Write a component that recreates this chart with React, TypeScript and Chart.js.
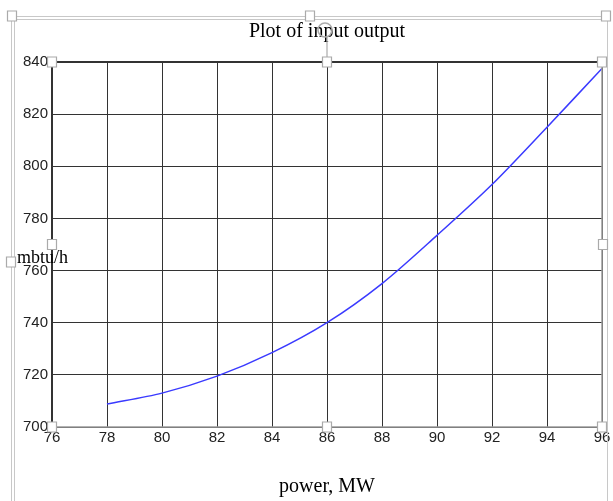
import React, { useEffect, useRef } from "react";
import { Chart, registerables } from "chart.js";

Chart.register(...registerables);

const chartTitle = "Plot of input output";
const xAxisTitle = "power, MW";
const yAxisTitle = "mbtu/h";
const powerMW = [78, 80, 82, 84, 86, 88, 90, 92, 94, 96];
const mbtuPerHour = [708.8, 713, 719.5, 728.5, 740, 755, 773.5, 793, 815, 837.5];
const xMin = 76;
const xMax = 96;
const xStep = 2;
const yMin = 700;
const yMax = 840;
const yStep = 20;

const decorations = {
  id: "decorations",
  afterDraw(chart: any) {
    const ctx = chart.ctx as CanvasRenderingContext2D;
    const a = chart.chartArea;
    ctx.save();
    // outer selection frame
    ctx.strokeStyle = "#c8c8c8";
    ctx.lineWidth = 1;
    ctx.beginPath();
    ctx.moveTo(11.5, 520);
    ctx.lineTo(11.5, 16.5);
    ctx.lineTo(607.5, 16.5);
    ctx.lineTo(607.5, 520);
    ctx.stroke();
    ctx.beginPath();
    ctx.moveTo(14.5, 520);
    ctx.lineTo(14.5, 19.5);
    ctx.lineTo(604.5, 19.5);
    ctx.stroke();
    // plot borders
    ctx.strokeStyle = "#333";
    ctx.lineWidth = 2;
    ctx.beginPath();
    ctx.moveTo(a.left, a.bottom);
    ctx.lineTo(a.left, a.top);
    ctx.lineTo(a.right, a.top);
    ctx.stroke();
    ctx.strokeStyle = "#9a9a9a";
    ctx.lineWidth = 1.5;
    ctx.beginPath();
    ctx.moveTo(a.left, a.bottom);
    ctx.lineTo(a.right, a.bottom);
    ctx.lineTo(a.right, a.top);
    ctx.stroke();
    // rotate handle stem
    const cx = (a.left + a.right) / 2;
    ctx.strokeStyle = "#999";
    ctx.lineWidth = 1;
    ctx.beginPath();
    ctx.moveTo(cx, a.top);
    ctx.lineTo(cx, 37);
    ctx.stroke();
    ctx.beginPath();
    ctx.arc(cx - 2, 30, 7, 0, Math.PI * 2);
    ctx.strokeStyle = "#aaa";
    ctx.lineWidth = 1.5;
    ctx.stroke();
    const handle = (x: number, y: number) => {
      ctx.fillStyle = "#fff";
      ctx.strokeStyle = "#aaa";
      ctx.lineWidth = 1.2;
      ctx.beginPath();
      ctx.rect(x - 4.5, y - 5, 9, 10);
      ctx.fill();
      ctx.stroke();
    };
    const my = (a.top + a.bottom) / 2;
    [
      [a.left, a.top], [cx, a.top], [a.right, a.top],
      [a.left, my], [a.right + 1, my],
      [a.left, a.bottom], [cx, a.bottom], [a.right, a.bottom],
      [12, 16], [310, 16], [606, 16], [11, 262],
    ].forEach(([x, y]) => handle(x, y));
    // horizontal y-axis title
    ctx.fillStyle = "#000";
    ctx.font = "18px 'Liberation Serif'";
    ctx.textBaseline = "middle";
    ctx.textAlign = "left";
    ctx.fillText(yAxisTitle, 17, 258);
    ctx.restore();
  },
};

export default function App() {
  const ref = useRef<HTMLCanvasElement>(null);
  useEffect(() => {
    if (!ref.current) return;
    const tickFont = { family: "'Liberation Sans Narrow', 'Liberation Sans', Arial", size: 15 };
    const chart = new Chart(ref.current, {
      type: "line",
      data: {
        datasets: [
          {
            data: powerMW.map((x, i) => ({ x, y: mbtuPerHour[i] })),
            borderColor: "#3a3aff",
            borderWidth: 1.5,
            pointRadius: 0,
            tension: 0.3,
            fill: false,
          },
        ],
      },
      options: {
        responsive: false,
        animation: false,
        layout: { padding: { left: 0, right: 11, top: 0, bottom: 0 } },
        plugins: {
          legend: { display: false },
          tooltip: { enabled: false },
          title: {
            display: true,
            text: chartTitle,
            fullSize: false,
            color: "#000",
            font: { family: "'Liberation Serif'", size: 20, weight: "normal" },
            padding: { top: 20, bottom: 18 },
          },
        },
        scales: {
          x: {
            type: "linear",
            min: xMin,
            max: xMax,
            grid: { color: "#333", lineWidth: 1, drawTicks: false },
            border: { display: false },
            ticks: { stepSize: xStep, color: "#222", font: tickFont, padding: 2, maxRotation: 0 },
            title: {
              display: true,
              text: xAxisTitle,
              color: "#000",
              font: { family: "'Liberation Serif'", size: 20, weight: "normal" },
              padding: { top: 26, bottom: 2 },
            },
          },
          y: {
            min: yMin,
            max: yMax,
            grid: { color: "#333", lineWidth: 1, drawTicks: false },
            border: { display: false },
            ticks: { stepSize: yStep, color: "#222", font: tickFont, padding: 4 },
            afterFit: (scale: any) => {
              scale.width = 52;
            },
          },
        },
      },
      plugins: [decorations],
    });
    return () => chart.destroy();
  }, []);
  return (
    <div style={{ position: "fixed", left: 0, top: 0, width: 613, height: 501, background: "#fff" }}>
      <canvas ref={ref} width={613} height={501} />
    </div>
  );
}
